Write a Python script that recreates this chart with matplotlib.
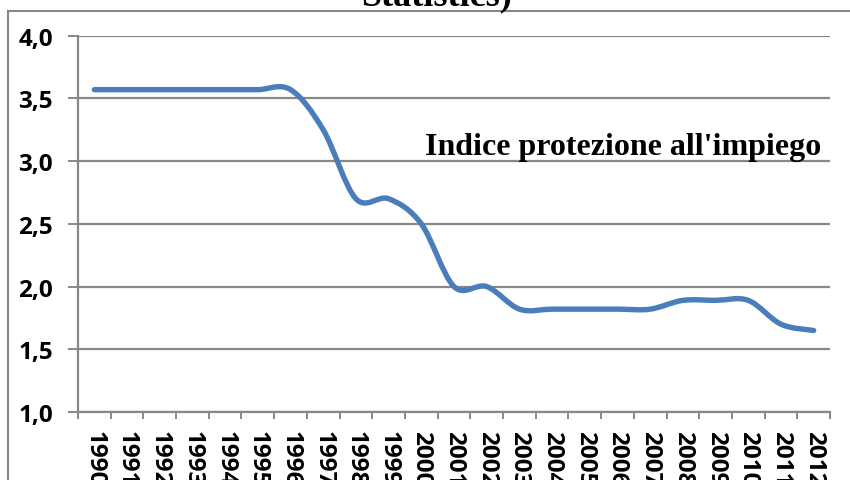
import numpy as np
import matplotlib
matplotlib.use("Agg")
import matplotlib.pyplot as plt
from matplotlib.path import Path
from matplotlib.patches import PathPatch
from matplotlib.lines import Line2D

years = ["1990", "1991", "1992", "1993", "1994", "1995", "1996", "1997",
         "1998", "1999", "2000", "2001", "2002", "2003", "2004", "2005",
         "2006", "2007", "2008", "2009", "2010", "2011", "2012"]
epl = [3.57, 3.57, 3.57, 3.57, 3.57, 3.57, 3.57, 3.25,
       2.70, 2.70, 2.50, 2.00, 2.00, 1.82, 1.82, 1.82,
       1.82, 1.82, 1.89, 1.89, 1.89, 1.70, 1.65]
yticks = [1.0, 1.5, 2.0, 2.5, 3.0, 3.5, 4.0]
ytick_labels = ["1,0", "1,5", "2,0", "2,5", "3,0", "3,5", "4,0"]
series_label = "Indice protezione all'impiego"
title_tail = "Statistics)"

grey = "#888888"
blue = "#4A7EBB"

fig = plt.figure(figsize=(8.5, 4.81), dpi=100)
ax = fig.add_axes([78/850, 1-413/481, 752/850, (413-36.7)/481])

# smooth line like excel (catmull-rom as bezier)
x = np.arange(len(epl), dtype=float)
y = np.array(epl)
verts = [(x[0], y[0])]
codes = [Path.MOVETO]
n = len(x)
for i in range(n-1):
    i0 = max(i-1, 0)
    i3 = min(i+2, n-1)
    c1 = (x[i] + (x[i+1]-x[i0])/6, y[i] + (y[i+1]-y[i0])/6)
    c2 = (x[i+1] - (x[i3]-x[i])/6, y[i+1] - (y[i3]-y[i])/6)
    verts += [c1, c2, (x[i+1], y[i+1])]
    codes += [Path.CURVE4]*3
ax.add_patch(PathPatch(Path(verts, codes), fill=False, edgecolor=blue,
                       lw=3.9, capstyle="round", joinstyle="round", zorder=3))

ax.set_xlim(-0.5, len(years)-0.5)
ax.set_ylim(1.0, 4.0)

ax.set_yticks(yticks)
ax.set_yticklabels(ytick_labels)
ax.set_xticks(np.arange(len(years)+1)-0.5)
ax.set_xticklabels([])
ax.set_xticks(x, minor=True)
ax.set_xticklabels(years, minor=True, rotation=-90)

ax.grid(axis="y", color=grey, lw=1.6)
ax.set_axisbelow(True)
for s in ["top", "right"]:
    ax.spines[s].set_visible(False)
for s in ["left", "bottom"]:
    ax.spines[s].set_color(grey)
    ax.spines[s].set_linewidth(1.6)

ax.tick_params(axis="y", length=7, width=1.4, color=grey, pad=11)
ax.tick_params(axis="x", which="major", length=5, width=1.4, color=grey)
ax.tick_params(axis="x", which="minor", length=0, pad=13)
for lab in ax.get_yticklabels() + ax.get_xticklabels(minor=True):
    lab.set_fontfamily("Open Sans")
    lab.set_fontweight("bold")
    lab.set_fontsize(17.5)

ax.text(0.461, 0.686, series_label, transform=ax.transAxes, va="baseline",
        ha="left", fontfamily="Liberation Serif", fontweight="bold", fontsize=23)

fig.text(437/850, 1-5/481, title_tail, ha="center", va="baseline",
         fontfamily="Liberation Serif", fontweight="bold", fontsize=26)

# outer chart border
ytop = 1-12.3/481
xl = 8/850
fig.add_artist(Line2D([xl, 1.0], [ytop, ytop], transform=fig.transFigure, color=grey, lw=1.5))
fig.add_artist(Line2D([xl, xl], [0.0, ytop], transform=fig.transFigure, color=grey, lw=1.5))

fig.savefig("out.png", dpi=100)
